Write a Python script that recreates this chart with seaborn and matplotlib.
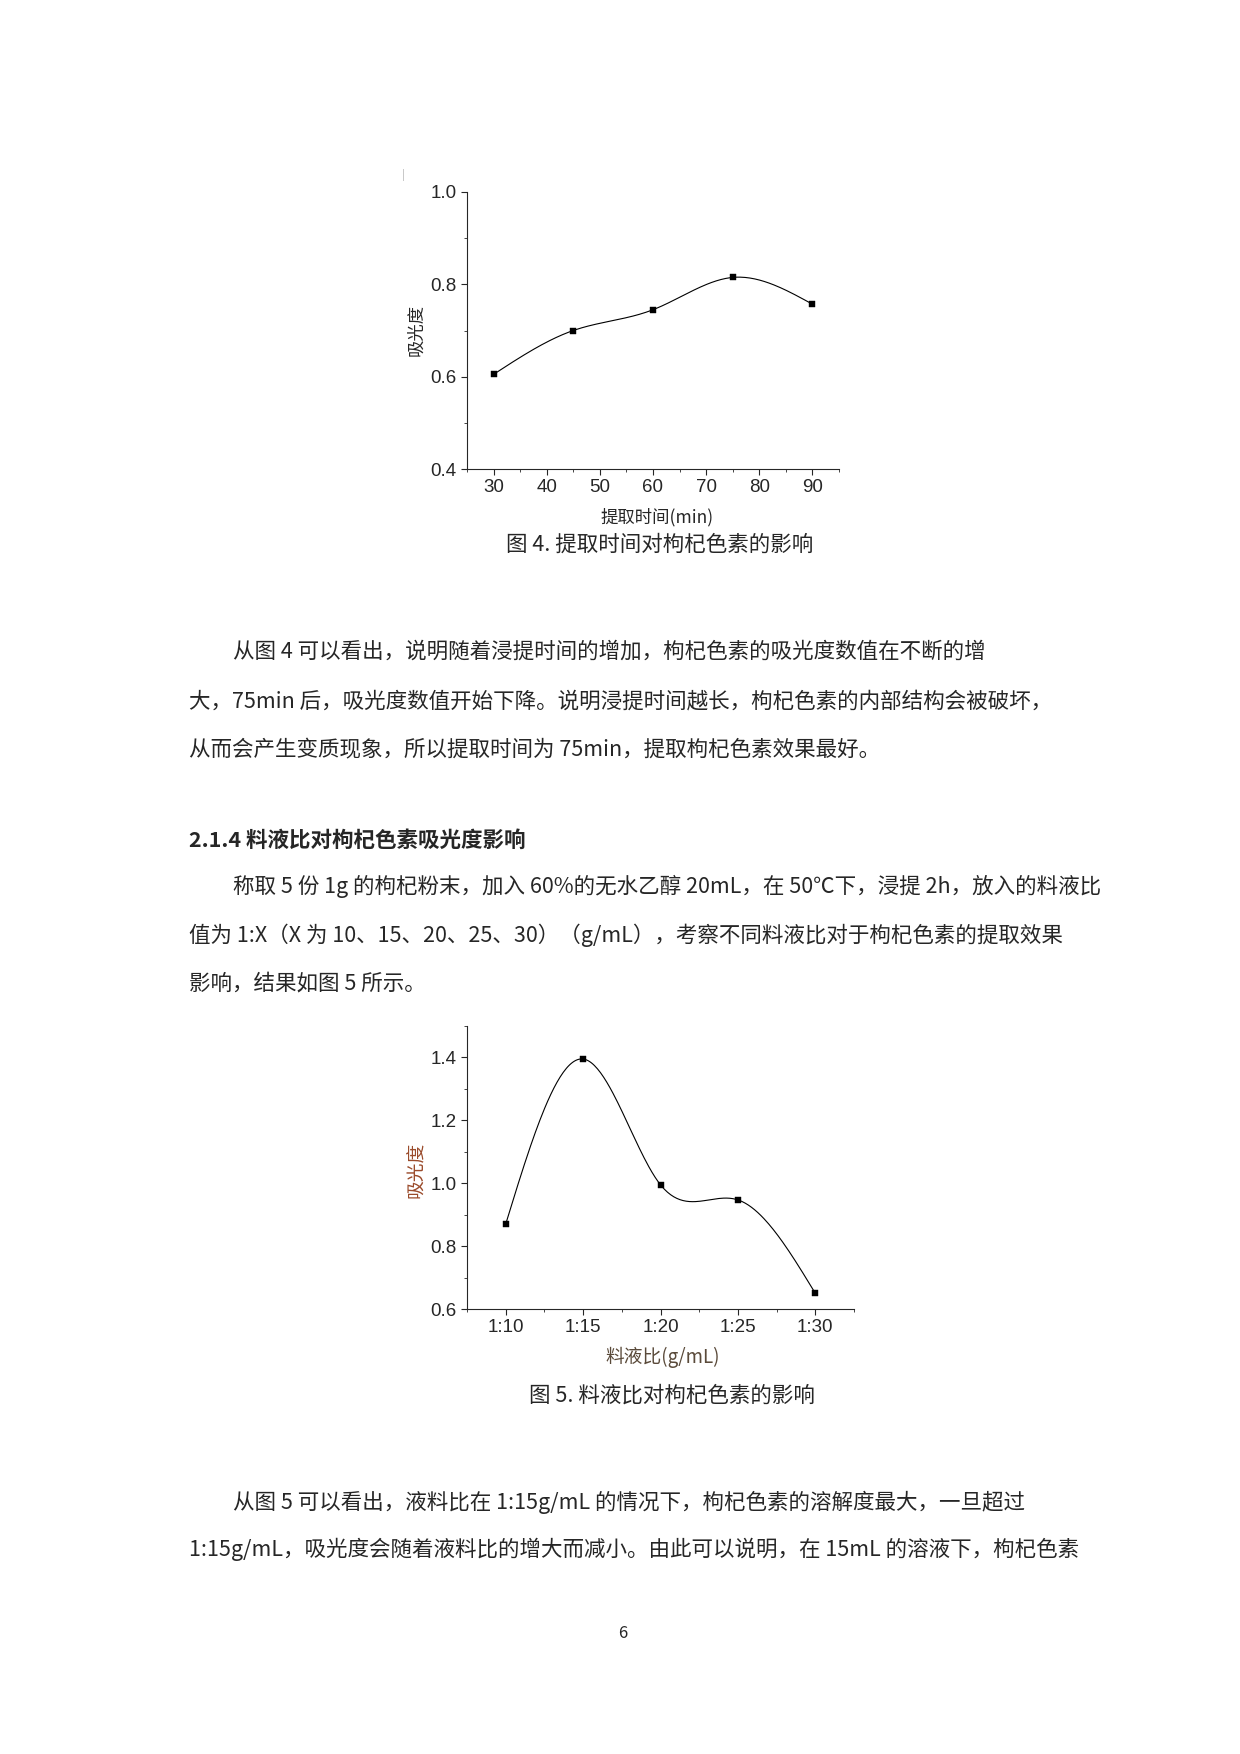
import numpy as np
import pandas as pd
import matplotlib
matplotlib.use("Agg")
import matplotlib.pyplot as plt
from matplotlib.ticker import MultipleLocator, AutoMinorLocator
import seaborn as sns

sns.set_style("ticks")
plt.rcParams['font.family'] = ['Noto Sans CJK SC', 'DejaVu Sans']

# figure 4 data
time_min = [30, 45, 60, 75, 90]
absorb_time = [0.605, 0.700, 0.745, 0.815, 0.757]

# figure 5 data
ratio_labels = ["1:10", "1:15", "1:20", "1:25", "1:30"]
absorb_ratio = [0.870, 1.395, 0.995, 0.947, 0.650]

W, H = 1240, 1754


def natural_spline(x, y, n=200):
    """Natural cubic spline through the points (smooth curve like Origin)"""
    x = np.asarray(x, float)
    y = np.asarray(y, float)
    k = len(x)
    h = np.diff(x)
    A = np.zeros((k, k))
    b = np.zeros(k)
    A[0, 0] = A[-1, -1] = 1
    for i in range(1, k - 1):
        A[i, i - 1] = h[i - 1]
        A[i, i] = 2 * (h[i - 1] + h[i])
        A[i, i + 1] = h[i]
        b[i] = 6 * ((y[i + 1] - y[i]) / h[i] - (y[i] - y[i - 1]) / h[i - 1])
    M = np.linalg.solve(A, b)
    xs = np.linspace(x[0], x[-1], n)
    idx = np.clip(np.searchsorted(x, xs) - 1, 0, k - 2)
    x0, x1 = x[idx], x[idx + 1]
    hh = x1 - x0
    t0, t1 = x1 - xs, xs - x0
    ys = (M[idx] * t0**3 + M[idx + 1] * t1**3) / (6 * hh) \
        + (y[idx] / hh - M[idx] * hh / 6) * t0 + (y[idx + 1] / hh - M[idx + 1] * hh / 6) * t1
    return xs, ys


def style_axis(ax):
    sns.despine(ax=ax)
    for s in ax.spines.values():
        s.set_linewidth(0.8)
    ax.tick_params(which='major', direction='out', length=4, width=0.8, labelsize=13.5)
    ax.tick_params(which='minor', direction='out', length=2, width=0.6)
    for lab in ax.get_xticklabels() + ax.get_yticklabels():
        lab.set_family('Liberation Sans')


def fx(px):
    return px / W


def fy(py):
    return 1 - py / H


fig = plt.figure(figsize=(W / 100, H / 100), dpi=100)

# ---- Figure 4 ----
ax1 = fig.add_axes([fx(467), fy(469), fx(839 - 467), (469 - 192) / H])
xs, ys = natural_spline(time_min, absorb_time)
sns.lineplot(x=xs, y=ys, ax=ax1, color='black', linewidth=0.8, sort=False)
sns.scatterplot(x=time_min, y=absorb_time, ax=ax1, marker='s', s=14, color='black', edgecolor='black')
ax1.set_xlim(25, 95)
ax1.set_ylim(0.4, 1.0)
ax1.xaxis.set_major_locator(MultipleLocator(10))
ax1.xaxis.set_minor_locator(AutoMinorLocator(2))
ax1.yaxis.set_major_locator(MultipleLocator(0.2))
ax1.yaxis.set_minor_locator(AutoMinorLocator(2))
style_axis(ax1)
ax1.set_xlabel("")
ax1.set_ylabel("")
fig.text(fx(657), fy(517), "提取时间(min)", ha='center', va='center', fontsize=12.5)
fig.text(fx(416), fy(330), "吸光度", ha='center', va='center', fontsize=12.5, rotation=90)
fig.text(fx(403), fy(175), "|", ha='center', va='center', fontsize=7, color='#aaaaaa')

# ---- Figure 5 ----
ax2 = fig.add_axes([fx(467), fy(1309), fx(854 - 467), (1309 - 1026) / H])
pos = np.arange(len(ratio_labels))
xs2, ys2 = natural_spline(pos, absorb_ratio)
sns.lineplot(x=xs2, y=ys2, ax=ax2, color='black', linewidth=0.8, sort=False)
sns.scatterplot(x=pos, y=absorb_ratio, ax=ax2, marker='s', s=14, color='black', edgecolor='black')
ax2.set_xlim(-0.5, 4.5)
ax2.set_ylim(0.6, 1.5)
ax2.set_xticks(pos)
ax2.set_xticklabels(ratio_labels)
ax2.xaxis.set_minor_locator(AutoMinorLocator(2))
ax2.set_yticks([0.6, 0.8, 1.0, 1.2, 1.4])
ax2.yaxis.set_minor_locator(AutoMinorLocator(2))
style_axis(ax2)
ax2.set_xlabel("")
ax2.set_ylabel("")
fig.text(fx(663), fy(1357), "料液比(g/mL)", ha='center', va='center', fontsize=13.5, color='#5a4a3a')
fig.text(fx(417), fy(1170), "吸光度", ha='center', va='center', fontsize=13.5, rotation=90, color='#9a4a2a')

# ---- page text ----
body = 15.5
fig.text(fx(660), fy(545), "图 4. 提取时间对枸杞色素的影响", ha='center', va='center', fontsize=body)
lines = [
    (233, 652, "从图 4 可以看出，说明随着浸提时间的增加，枸杞色素的吸光度数值在不断的增"),
    (189, 701, "大，75min 后，吸光度数值开始下降。说明浸提时间越长，枸杞色素的内部结构会被破坏，"),
    (189, 750, "从而会产生变质现象，所以提取时间为 75min，提取枸杞色素效果最好。"),
    (233, 886, "称取 5 份 1g 的枸杞粉末，加入 60%的无水乙醇 20mL，在 50℃下，浸提 2h，放入的料液比"),
    (189, 935, "值为 1:X（X 为 10、15、20、25、30）（g/mL），考察不同料液比对于枸杞色素的提取效果"),
    (189, 983, "影响，结果如图 5 所示。"),
    (233, 1502, "从图 5 可以看出，液料比在 1:15g/mL 的情况下，枸杞色素的溶解度最大，一旦超过"),
    (189, 1549, "1:15g/mL，吸光度会随着液料比的增大而减小。由此可以说明，在 15mL 的溶液下，枸杞色素"),
]
for x, y, t in lines:
    fig.text(fx(x), fy(y), t, ha='left', va='center', fontsize=body)
fig.text(fx(189), fy(840), "2.1.4 料液比对枸杞色素吸光度影响", ha='left', va='center',
         fontsize=body, fontweight='bold')
fig.text(fx(672), fy(1396), "图 5. 料液比对枸杞色素的影响", ha='center', va='center', fontsize=body)
fig.text(fx(623), fy(1634), "6", ha='center', va='center', fontsize=12)

fig.savefig("out.png", dpi=100)
